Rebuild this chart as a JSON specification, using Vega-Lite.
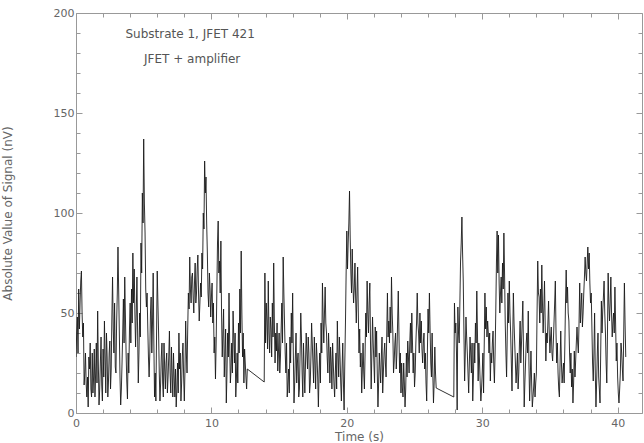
{
  "$schema": "https://vega.github.io/schema/vega-lite/v6.json",
  "autosize": {"type": "none"},
  "width": 566,
  "height": 400,
  "padding": {"left": 76, "top": 13, "right": 2, "bottom": 30},
  "background": "white",
  "config": {
    "view": {"stroke": null},
    "font": "DejaVu Sans",
    "axis": {
      "domainColor": "#999999",
      "tickColor": "#999999",
      "labelColor": "#666666",
      "titleColor": "#666666",
      "labelFont": "DejaVu Sans",
      "titleFont": "DejaVu Sans",
      "labelFontSize": 11,
      "titleFontSize": 12,
      "titleFontWeight": "normal",
      "grid": false,
      "domainWidth": 1,
      "tickWidth": 1
    }
  },
  "data": {
    "values": [
      {"t":0.0,"v":28},{"t":0.05,"v":40},{"t":0.1,"v":48},{"t":0.15,"v":30},{"t":0.2,"v":62},{"t":0.25,"v":42},{"t":0.3,"v":55},{"t":0.35,"v":66},{"t":0.4,"v":71},{"t":0.45,"v":50},
      {"t":0.5,"v":38},{"t":0.55,"v":45},{"t":0.6,"v":14},{"t":0.65,"v":20},{"t":0.7,"v":30},{"t":0.75,"v":15},{"t":0.8,"v":8},{"t":0.85,"v":18},{"t":0.9,"v":3},{"t":0.95,"v":28},
      {"t":1.0,"v":22},{"t":1.05,"v":35},{"t":1.1,"v":12},{"t":1.15,"v":8},{"t":1.2,"v":30},{"t":1.25,"v":10},{"t":1.3,"v":18},{"t":1.35,"v":32},{"t":1.4,"v":8},{"t":1.45,"v":20},
      {"t":1.5,"v":35},{"t":1.55,"v":15},{"t":1.6,"v":51},{"t":1.65,"v":25},{"t":1.7,"v":4},{"t":1.75,"v":12},{"t":1.8,"v":25},{"t":1.85,"v":38},{"t":1.9,"v":14},{"t":1.95,"v":6},
      {"t":2.0,"v":32},{"t":2.05,"v":18},{"t":2.1,"v":46},{"t":2.15,"v":28},{"t":2.2,"v":10},{"t":2.25,"v":40},{"t":2.3,"v":28},{"t":2.35,"v":8},{"t":2.4,"v":16},{"t":2.45,"v":30},
      {"t":2.5,"v":36},{"t":2.55,"v":12},{"t":2.6,"v":22},{"t":2.65,"v":48},{"t":2.7,"v":68},{"t":2.75,"v":42},{"t":2.8,"v":30},{"t":2.85,"v":55},{"t":2.9,"v":23},{"t":2.95,"v":20},
      {"t":3.0,"v":45},{"t":3.05,"v":60},{"t":3.1,"v":83},{"t":3.15,"v":62},{"t":3.2,"v":40},{"t":3.25,"v":18},{"t":3.3,"v":4},{"t":3.35,"v":12},{"t":3.4,"v":25},{"t":3.45,"v":40},
      {"t":3.5,"v":57},{"t":3.55,"v":35},{"t":3.6,"v":68},{"t":3.65,"v":48},{"t":3.7,"v":30},{"t":3.75,"v":16},{"t":3.8,"v":7},{"t":3.85,"v":30},{"t":3.9,"v":20},{"t":3.95,"v":42},
      {"t":4.0,"v":55},{"t":4.05,"v":35},{"t":4.1,"v":62},{"t":4.15,"v":45},{"t":4.2,"v":80},{"t":4.25,"v":55},{"t":4.3,"v":72},{"t":4.35,"v":50},{"t":4.4,"v":33},{"t":4.45,"v":50},
      {"t":4.5,"v":68},{"t":4.55,"v":40},{"t":4.6,"v":15},{"t":4.65,"v":30},{"t":4.7,"v":50},{"t":4.75,"v":38},{"t":4.8,"v":85},{"t":4.85,"v":70},{"t":4.9,"v":110},{"t":4.95,"v":95},
      {"t":5.0,"v":137},{"t":5.05,"v":105},{"t":5.1,"v":90},{"t":5.15,"v":62},{"t":5.2,"v":53},{"t":5.25,"v":60},{"t":5.3,"v":43},{"t":5.35,"v":28},{"t":5.4,"v":18},{"t":5.45,"v":30},
      {"t":5.5,"v":50},{"t":5.55,"v":58},{"t":5.6,"v":30},{"t":5.65,"v":45},{"t":5.7,"v":70},{"t":5.75,"v":35},{"t":5.8,"v":8},{"t":5.85,"v":20},{"t":5.9,"v":6},{"t":5.95,"v":40},
      {"t":6.0,"v":71},{"t":6.05,"v":55},{"t":6.1,"v":40},{"t":6.15,"v":20},{"t":6.2,"v":6},{"t":6.25,"v":15},{"t":6.3,"v":28},{"t":6.35,"v":35},{"t":6.4,"v":15},{"t":6.45,"v":8},
      {"t":6.5,"v":35},{"t":6.55,"v":22},{"t":6.6,"v":12},{"t":6.65,"v":25},{"t":6.7,"v":30},{"t":6.75,"v":10},{"t":6.8,"v":18},{"t":6.85,"v":28},{"t":6.9,"v":41},{"t":6.95,"v":20},
      {"t":7.0,"v":10},{"t":7.05,"v":33},{"t":7.1,"v":20},{"t":7.15,"v":8},{"t":7.2,"v":30},{"t":7.25,"v":18},{"t":7.3,"v":8},{"t":7.35,"v":22},{"t":7.4,"v":3},{"t":7.45,"v":12},
      {"t":7.5,"v":25},{"t":7.55,"v":10},{"t":7.6,"v":40},{"t":7.65,"v":22},{"t":7.7,"v":30},{"t":7.75,"v":6},{"t":7.8,"v":15},{"t":7.85,"v":28},{"t":7.9,"v":35},{"t":7.95,"v":18},
      {"t":8.0,"v":6},{"t":8.05,"v":22},{"t":8.1,"v":46},{"t":8.15,"v":30},{"t":8.2,"v":20},{"t":8.25,"v":42},{"t":8.3,"v":60},{"t":8.35,"v":52},{"t":8.4,"v":78},{"t":8.45,"v":62},
      {"t":8.5,"v":55},{"t":8.55,"v":68},{"t":8.6,"v":70},{"t":8.65,"v":58},{"t":8.7,"v":50},{"t":8.75,"v":65},{"t":8.8,"v":75},{"t":8.85,"v":55},{"t":8.9,"v":60},{"t":8.95,"v":72},
      {"t":9.0,"v":79},{"t":9.05,"v":60},{"t":9.1,"v":46},{"t":9.15,"v":55},{"t":9.2,"v":65},{"t":9.25,"v":58},{"t":9.3,"v":80},{"t":9.35,"v":72},{"t":9.4,"v":100},{"t":9.45,"v":92},
      {"t":9.5,"v":126},{"t":9.55,"v":110},{"t":9.6,"v":118},{"t":9.65,"v":95},{"t":9.7,"v":80},{"t":9.75,"v":60},{"t":9.8,"v":53},{"t":9.85,"v":70},{"t":9.9,"v":62},{"t":9.95,"v":48},
      {"t":10.0,"v":58},{"t":10.05,"v":65},{"t":10.1,"v":45},{"t":10.15,"v":55},{"t":10.2,"v":30},{"t":10.25,"v":38},{"t":10.3,"v":17},{"t":10.35,"v":35},{"t":10.4,"v":60},{"t":10.45,"v":85},
      {"t":10.5,"v":96},{"t":10.55,"v":70},{"t":10.6,"v":76},{"t":10.65,"v":60},{"t":10.7,"v":86},{"t":10.75,"v":50},{"t":10.8,"v":28},{"t":10.85,"v":40},{"t":10.9,"v":52},{"t":10.95,"v":18},
      {"t":11.0,"v":30},{"t":11.05,"v":42},{"t":11.1,"v":5},{"t":11.15,"v":20},{"t":11.2,"v":40},{"t":11.25,"v":28},{"t":11.3,"v":60},{"t":11.35,"v":35},{"t":11.4,"v":15},{"t":11.45,"v":22},
      {"t":11.5,"v":35},{"t":11.55,"v":20},{"t":11.6,"v":51},{"t":11.65,"v":38},{"t":11.7,"v":25},{"t":11.75,"v":40},{"t":11.8,"v":8},{"t":11.85,"v":18},{"t":11.9,"v":30},{"t":11.95,"v":15},
      {"t":12.0,"v":45},{"t":12.05,"v":30},{"t":12.1,"v":62},{"t":12.15,"v":40},{"t":12.2,"v":81},{"t":12.25,"v":50},{"t":12.3,"v":28},{"t":12.35,"v":40},{"t":12.4,"v":15},{"t":12.45,"v":32},
      {"t":12.5,"v":25},{"t":12.55,"v":18},{"t":12.6,"v":12},{"t":12.65,"v":22},
      {"t":13.9,"v":15.5},{"t":13.95,"v":70},{"t":14.0,"v":35},{"t":14.05,"v":55},{"t":14.1,"v":46},{"t":14.15,"v":32},{"t":14.2,"v":66},{"t":14.25,"v":40},{"t":14.3,"v":30},{"t":14.35,"v":48},
      {"t":14.4,"v":42},{"t":14.45,"v":28},{"t":14.5,"v":55},{"t":14.55,"v":38},{"t":14.6,"v":75},{"t":14.65,"v":45},{"t":14.7,"v":25},{"t":14.75,"v":40},{"t":14.8,"v":31},{"t":14.85,"v":45},
      {"t":14.9,"v":21},{"t":14.95,"v":30},{"t":15.0,"v":40},{"t":15.05,"v":20},{"t":15.1,"v":28},{"t":15.15,"v":42},{"t":15.2,"v":55},{"t":15.25,"v":35},{"t":15.3,"v":78},{"t":15.35,"v":60},
      {"t":15.4,"v":45},{"t":15.45,"v":30},{"t":15.5,"v":20},{"t":15.55,"v":35},{"t":15.6,"v":8},{"t":15.65,"v":15},{"t":15.7,"v":22},{"t":15.75,"v":10},{"t":15.8,"v":38},{"t":15.85,"v":25},
      {"t":15.9,"v":50},{"t":15.95,"v":35},{"t":16.0,"v":60},{"t":16.05,"v":30},{"t":16.1,"v":5},{"t":16.15,"v":15},{"t":16.2,"v":28},{"t":16.25,"v":40},{"t":16.3,"v":15},{"t":16.35,"v":25},
      {"t":16.4,"v":30},{"t":16.45,"v":8},{"t":16.5,"v":12},{"t":16.55,"v":30},{"t":16.6,"v":50},{"t":16.65,"v":38},{"t":16.7,"v":20},{"t":16.75,"v":8},{"t":16.8,"v":35},{"t":16.85,"v":22},
      {"t":16.9,"v":10},{"t":16.95,"v":25},{"t":17.0,"v":40},{"t":17.05,"v":30},{"t":17.1,"v":22},{"t":17.15,"v":38},{"t":17.2,"v":30},{"t":17.25,"v":10},{"t":17.3,"v":15},{"t":17.35,"v":28},
      {"t":17.4,"v":45},{"t":17.45,"v":35},{"t":17.5,"v":25},{"t":17.55,"v":15},{"t":17.6,"v":38},{"t":17.65,"v":25},{"t":17.7,"v":12},{"t":17.75,"v":35},{"t":17.8,"v":28},{"t":17.85,"v":18},
      {"t":17.9,"v":3},{"t":17.95,"v":20},{"t":18.0,"v":30},{"t":18.05,"v":15},{"t":18.1,"v":45},{"t":18.15,"v":30},{"t":18.2,"v":65},{"t":18.25,"v":48},{"t":18.3,"v":35},{"t":18.35,"v":50},
      {"t":18.4,"v":63},{"t":18.45,"v":45},{"t":18.5,"v":40},{"t":18.55,"v":28},{"t":18.6,"v":20},{"t":18.65,"v":40},{"t":18.7,"v":30},{"t":18.75,"v":15},{"t":18.8,"v":33},{"t":18.85,"v":25},
      {"t":18.9,"v":12},{"t":18.95,"v":35},{"t":19.0,"v":25},{"t":19.05,"v":15},{"t":19.1,"v":8},{"t":19.15,"v":20},{"t":19.2,"v":30},{"t":19.25,"v":12},{"t":19.3,"v":46},{"t":19.35,"v":30},
      {"t":19.4,"v":18},{"t":19.45,"v":38},{"t":19.5,"v":28},{"t":19.55,"v":15},{"t":19.6,"v":6},{"t":19.65,"v":22},{"t":19.7,"v":35},{"t":19.75,"v":15},{"t":19.8,"v":1.5},{"t":19.85,"v":25},
      {"t":19.9,"v":45},{"t":19.95,"v":70},{"t":20.0,"v":91},{"t":20.05,"v":72},{"t":20.1,"v":85},{"t":20.15,"v":95},{"t":20.2,"v":111},{"t":20.25,"v":88},{"t":20.3,"v":70},{"t":20.35,"v":60},
      {"t":20.4,"v":82},{"t":20.45,"v":65},{"t":20.5,"v":55},{"t":20.55,"v":62},{"t":20.6,"v":75},{"t":20.65,"v":58},{"t":20.7,"v":45},{"t":20.75,"v":60},{"t":20.8,"v":73},{"t":20.85,"v":50},
      {"t":20.9,"v":30},{"t":20.95,"v":42},{"t":21.0,"v":23},{"t":21.05,"v":30},{"t":21.1,"v":10},{"t":21.15,"v":22},{"t":21.2,"v":35},{"t":21.25,"v":20},{"t":21.3,"v":12},{"t":21.35,"v":30},
      {"t":21.4,"v":50},{"t":21.45,"v":38},{"t":21.5,"v":66},{"t":21.55,"v":50},{"t":21.6,"v":40},{"t":21.65,"v":55},{"t":21.7,"v":65},{"t":21.75,"v":35},{"t":21.8,"v":12},{"t":21.85,"v":30},
      {"t":21.9,"v":48},{"t":21.95,"v":35},{"t":22.0,"v":25},{"t":22.05,"v":15},{"t":22.1,"v":43},{"t":22.15,"v":28},{"t":22.2,"v":41},{"t":22.25,"v":20},{"t":22.3,"v":3},{"t":22.35,"v":15},
      {"t":22.4,"v":30},{"t":22.45,"v":22},{"t":22.5,"v":15},{"t":22.55,"v":28},{"t":22.6,"v":38},{"t":22.65,"v":10},{"t":22.7,"v":20},{"t":22.75,"v":30},{"t":22.8,"v":35},{"t":22.85,"v":25},
      {"t":22.9,"v":18},{"t":22.95,"v":40},{"t":23.0,"v":60},{"t":23.05,"v":38},{"t":23.1,"v":46},{"t":23.15,"v":35},{"t":23.2,"v":53},{"t":23.25,"v":40},{"t":23.3,"v":68},{"t":23.35,"v":50},
      {"t":23.4,"v":40},{"t":23.45,"v":20},{"t":23.5,"v":26},{"t":23.55,"v":35},{"t":23.6,"v":40},{"t":23.65,"v":22},{"t":23.7,"v":30},{"t":23.75,"v":45},{"t":23.8,"v":61},{"t":23.85,"v":40},
      {"t":23.9,"v":20},{"t":23.95,"v":30},{"t":24.0,"v":10},{"t":24.05,"v":25},{"t":24.1,"v":13},{"t":24.15,"v":8},{"t":24.2,"v":25},{"t":24.25,"v":15},{"t":24.3,"v":3},{"t":24.35,"v":12},
      {"t":24.4,"v":30},{"t":24.45,"v":18},{"t":24.5,"v":36},{"t":24.55,"v":28},{"t":24.6,"v":20},{"t":24.65,"v":35},{"t":24.7,"v":45},{"t":24.75,"v":30},{"t":24.8,"v":50},{"t":24.85,"v":35},
      {"t":24.9,"v":20},{"t":24.95,"v":30},{"t":25.0,"v":13},{"t":25.05,"v":20},{"t":25.1,"v":35},{"t":25.15,"v":45},{"t":25.2,"v":60},{"t":25.25,"v":45},{"t":25.3,"v":40},{"t":25.35,"v":30},
      {"t":25.4,"v":50},{"t":25.45,"v":35},{"t":25.5,"v":46},{"t":25.55,"v":32},{"t":25.6,"v":25},{"t":25.65,"v":35},{"t":25.7,"v":40},{"t":25.75,"v":22},{"t":25.8,"v":30},{"t":25.85,"v":15},
      {"t":25.9,"v":6},{"t":25.95,"v":30},{"t":26.0,"v":52},{"t":26.05,"v":40},{"t":26.1,"v":60},{"t":26.15,"v":42},{"t":26.2,"v":25},{"t":26.25,"v":18},{"t":26.3,"v":40},{"t":26.35,"v":20},
      {"t":26.4,"v":5},{"t":26.45,"v":15},{"t":26.5,"v":33},{"t":26.55,"v":20},{"t":26.6,"v":12.5},
      {"t":27.9,"v":8},{"t":27.95,"v":55},{"t":28.0,"v":40},{"t":28.05,"v":45},{"t":28.1,"v":30},{"t":28.15,"v":1.5},{"t":28.2,"v":53},{"t":28.25,"v":40},{"t":28.3,"v":35},{"t":28.35,"v":55},
      {"t":28.4,"v":76},{"t":28.45,"v":85},{"t":28.5,"v":98},{"t":28.55,"v":80},{"t":28.6,"v":66},{"t":28.65,"v":40},{"t":28.7,"v":16},{"t":28.75,"v":30},{"t":28.8,"v":48},{"t":28.85,"v":38},
      {"t":28.9,"v":30},{"t":28.95,"v":20},{"t":29.0,"v":10},{"t":29.05,"v":25},{"t":29.1,"v":38},{"t":29.15,"v":30},{"t":29.2,"v":20},{"t":29.25,"v":35},{"t":29.3,"v":6},{"t":29.35,"v":18},
      {"t":29.4,"v":35},{"t":29.45,"v":25},{"t":29.5,"v":45},{"t":29.55,"v":35},{"t":29.6,"v":61},{"t":29.65,"v":40},{"t":29.7,"v":16},{"t":29.75,"v":35},{"t":29.8,"v":26},{"t":29.85,"v":15},
      {"t":29.9,"v":6},{"t":29.95,"v":12},{"t":30.0,"v":20},{"t":30.05,"v":30},{"t":30.1,"v":10},{"t":30.15,"v":35},{"t":30.2,"v":60},{"t":30.25,"v":42},{"t":30.3,"v":53},{"t":30.35,"v":38},
      {"t":30.4,"v":46},{"t":30.45,"v":40},{"t":30.5,"v":30},{"t":30.55,"v":40},{"t":30.6,"v":16},{"t":30.65,"v":30},{"t":30.7,"v":25},{"t":30.75,"v":35},{"t":30.8,"v":41},{"t":30.85,"v":25},
      {"t":30.9,"v":15},{"t":30.95,"v":30},{"t":31.0,"v":50},{"t":31.05,"v":75},{"t":31.1,"v":91},{"t":31.15,"v":70},{"t":31.2,"v":89},{"t":31.25,"v":65},{"t":31.3,"v":50},{"t":31.35,"v":60},
      {"t":31.4,"v":68},{"t":31.45,"v":55},{"t":31.5,"v":75},{"t":31.55,"v":62},{"t":31.6,"v":90},{"t":31.65,"v":70},{"t":31.7,"v":45},{"t":31.75,"v":30},{"t":31.8,"v":18},{"t":31.85,"v":40},
      {"t":31.9,"v":60},{"t":31.95,"v":45},{"t":32.0,"v":66},{"t":32.05,"v":50},{"t":32.1,"v":40},{"t":32.15,"v":25},{"t":32.2,"v":11},{"t":32.25,"v":35},{"t":32.3,"v":60},{"t":32.35,"v":45},
      {"t":32.4,"v":35},{"t":32.45,"v":25},{"t":32.5,"v":15},{"t":32.55,"v":22},{"t":32.6,"v":30},{"t":32.65,"v":12},{"t":32.7,"v":20},{"t":32.75,"v":35},{"t":32.8,"v":46},{"t":32.85,"v":25},
      {"t":32.9,"v":35},{"t":32.95,"v":45},{"t":33.0,"v":56},{"t":33.05,"v":30},{"t":33.1,"v":3},{"t":33.15,"v":15},{"t":33.2,"v":25},{"t":33.25,"v":35},{"t":33.3,"v":40},{"t":33.35,"v":30},
      {"t":33.4,"v":51},{"t":33.45,"v":25},{"t":33.5,"v":6},{"t":33.55,"v":18},{"t":33.6,"v":31},{"t":33.65,"v":15},{"t":33.7,"v":3},{"t":33.75,"v":8},{"t":33.8,"v":13},{"t":33.85,"v":20},
      {"t":33.9,"v":8},{"t":33.95,"v":15},{"t":34.0,"v":20},{"t":34.05,"v":50},{"t":34.1,"v":76},{"t":34.15,"v":60},{"t":34.2,"v":58},{"t":34.25,"v":45},{"t":34.3,"v":62},{"t":34.35,"v":50},
      {"t":34.4,"v":74},{"t":34.45,"v":55},{"t":34.5,"v":40},{"t":34.55,"v":52},{"t":34.6,"v":66},{"t":34.65,"v":45},{"t":34.7,"v":26},{"t":34.75,"v":40},{"t":34.8,"v":35},{"t":34.85,"v":45},
      {"t":34.9,"v":56},{"t":34.95,"v":40},{"t":35.0,"v":30},{"t":35.05,"v":38},{"t":35.1,"v":43},{"t":35.15,"v":30},{"t":35.2,"v":26},{"t":35.25,"v":35},{"t":35.3,"v":45},{"t":35.35,"v":55},
      {"t":35.4,"v":66},{"t":35.45,"v":40},{"t":35.5,"v":25},{"t":35.55,"v":35},{"t":35.6,"v":20},{"t":35.65,"v":12},{"t":35.7,"v":8},{"t":35.75,"v":25},{"t":35.8,"v":41},{"t":35.85,"v":25},
      {"t":35.9,"v":15},{"t":35.95,"v":20},{"t":36.0,"v":25},{"t":36.05,"v":15},{"t":36.1,"v":33},{"t":36.15,"v":55},{"t":36.2,"v":71.5},{"t":36.25,"v":55},{"t":36.3,"v":63},{"t":36.35,"v":50},
      {"t":36.4,"v":46},{"t":36.45,"v":30},{"t":36.5,"v":20},{"t":36.55,"v":30},{"t":36.6,"v":13},{"t":36.65,"v":22},{"t":36.7,"v":5},{"t":36.75,"v":15},{"t":36.8,"v":31},{"t":36.85,"v":18},
      {"t":36.9,"v":26},{"t":36.95,"v":35},{"t":37.0,"v":43},{"t":37.05,"v":35},{"t":37.1,"v":30},{"t":37.15,"v":45},{"t":37.2,"v":65},{"t":37.25,"v":45},{"t":37.3,"v":53},{"t":37.35,"v":60},
      {"t":37.4,"v":43},{"t":37.45,"v":50},{"t":37.5,"v":60},{"t":37.55,"v":68},{"t":37.6,"v":78},{"t":37.65,"v":70},{"t":37.7,"v":66},{"t":37.75,"v":75},{"t":37.8,"v":83},{"t":37.85,"v":72},
      {"t":37.9,"v":80},{"t":37.95,"v":65},{"t":38.0,"v":55},{"t":38.05,"v":60},{"t":38.1,"v":43},{"t":38.15,"v":25},{"t":38.2,"v":16},{"t":38.25,"v":30},{"t":38.3,"v":50},{"t":38.35,"v":20},
      {"t":38.4,"v":3},{"t":38.45,"v":15},{"t":38.5,"v":30},{"t":38.55,"v":40},{"t":38.6,"v":18},{"t":38.65,"v":12},{"t":38.7,"v":5},{"t":38.75,"v":30},{"t":38.8,"v":56},{"t":38.85,"v":40},
      {"t":38.9,"v":51},{"t":38.95,"v":58},{"t":39.0,"v":66},{"t":39.05,"v":50},{"t":39.1,"v":40},{"t":39.15,"v":25},{"t":39.2,"v":15},{"t":39.25,"v":40},{"t":39.3,"v":70},{"t":39.35,"v":55},
      {"t":39.4,"v":46},{"t":39.45,"v":55},{"t":39.5,"v":68},{"t":39.55,"v":50},{"t":39.6,"v":38},{"t":39.65,"v":45},{"t":39.7,"v":50},{"t":39.75,"v":40},{"t":39.8,"v":63},{"t":39.85,"v":45},
      {"t":39.9,"v":26},{"t":39.95,"v":35},{"t":40.0,"v":18},{"t":40.05,"v":10},{"t":40.1,"v":5},{"t":40.15,"v":12},{"t":40.2,"v":20},{"t":40.25,"v":35},{"t":40.3,"v":30},{"t":40.35,"v":22},
      {"t":40.4,"v":16},{"t":40.45,"v":40},{"t":40.5,"v":65},{"t":40.55,"v":45},{"t":40.6,"v":28}
    ]
  },
  "layer": [
    {
      "mark": {"type": "line", "color": "#1a1a1a", "strokeWidth": 0.9, "clip": true},
      "encoding": {
        "x": {
          "field": "t", "type": "quantitative",
          "scale": {"domain": [0, 41.8], "nice": false, "zero": false},
          "axis": {
            "orient": "bottom",
            "title": "Time (s)",
            "values": [0,2,4,6,8,10,12,14,16,18,20,22,24,26,28,30,32,34,36,38,40],
            "labelExpr": "datum.value % 10 === 0 ? datum.label : ''",
            "tickSize": {"condition": {"test": "datum.value % 10 === 0", "value": -6}, "value": -4},
            "labelPadding": 10,
            "titlePadding": 3,
            "labelFlush": false
          }
        },
        "y": {
          "field": "v", "type": "quantitative",
          "scale": {"domain": [0, 200], "nice": false},
          "axis": {
            "orient": "left",
            "title": "Absolute Value of Signal (nV)",
            "values": [0,10,20,30,40,50,60,70,80,90,100,110,120,130,140,150,160,170,180,190,200],
            "labelExpr": "datum.value % 50 === 0 ? datum.label : ''",
            "tickSize": {"condition": {"test": "datum.value % 50 === 0", "value": -6}, "value": -4},
            "labelPadding": 8,
            "titlePadding": 39,
            "labelFlush": false
          }
        }
      }
    },
    {
      "mark": {"type": "line", "opacity": 0},
      "encoding": {
        "x": {
          "field": "t", "type": "quantitative",
          "axis": {
            "orient": "top",
            "title": null,
            "labels": false,
            "values": [0,2,4,6,8,10,12,14,16,18,20,22,24,26,28,30,32,34,36,38,40],
            "tickSize": {"condition": {"test": "datum.value % 10 === 0", "value": -6}, "value": -4}
          }
        },
        "y": {
          "field": "v", "type": "quantitative",
          "axis": {
            "orient": "right",
            "title": null,
            "labels": false,
            "values": [0,10,20,30,40,50,60,70,80,90,100,110,120,130,140,150,160,170,180,190,200],
            "tickSize": {"condition": {"test": "datum.value % 50 === 0", "value": -6}, "value": -4}
          }
        }
      }
    },
    {
      "data": {"values": [{"label": "Substrate 1, JFET 421"}]},
      "mark": {"type": "text", "fontSize": 12, "color": "#555555", "align": "center", "baseline": "middle"},
      "encoding": {
        "x": {"datum": 8.43, "type": "quantitative", "axis": null},
        "y": {"datum": 189.3, "type": "quantitative", "axis": null},
        "text": {"field": "label"}
      }
    },
    {
      "data": {"values": [{"label": "JFET + amplifier"}]},
      "mark": {"type": "text", "fontSize": 12, "color": "#555555", "align": "center", "baseline": "middle"},
      "encoding": {
        "x": {"datum": 8.58, "type": "quantitative", "axis": null},
        "y": {"datum": 176.8, "type": "quantitative", "axis": null},
        "text": {"field": "label"}
      }
    }
  ],
  "resolve": {"axis": {"x": "independent", "y": "independent"}}
}
